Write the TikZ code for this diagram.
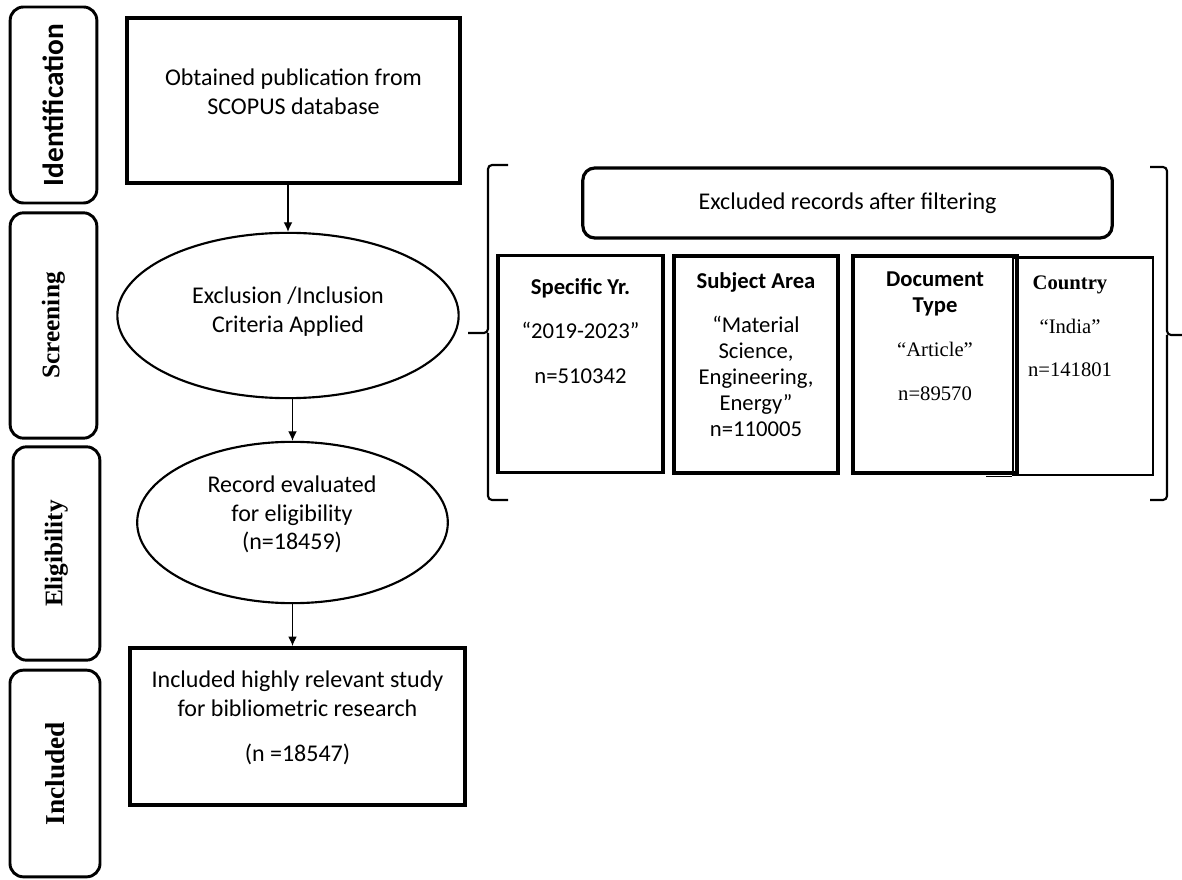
\documentclass[tikz,border=0pt]{standalone}
\usepackage{fontspec}
\setmainfont{Carlito}
\newfontfamily\tnr{Liberation Serif}
\usetikzlibrary{shapes.geometric, arrows.meta}

\tikzset{
  stage/.style={draw, line width=2.2pt, rounded corners=10pt, rotate=90,
    inner sep=0pt, font=\tnr\bfseries\fontsize{19}{22}\selectfont},
  box/.style={draw, line width=2.8pt, inner sep=0pt},
  oval/.style={draw, ellipse, line width=1.6pt, inner sep=0pt},
  filt/.style={draw, line width=2.6pt, inner sep=0pt, minimum height=163pt},
  txt/.style={align=center, inner sep=0pt, font=\fontsize{18}{21.6}\selectfont},
  small/.style={align=center, inner sep=0pt, anchor=north,
    font=\fontsize{17}{19.5}\selectfont},
  flow/.style={-{Latex[length=7pt,width=6.5pt]}, line width=0.8pt},
  brack/.style={line width=1.6pt, rounded corners=3pt}
}

\begin{document}
\begin{tikzpicture}[x=0.75pt, y=-0.75pt]
  \useasboundingbox (0,0) rectangle (1182,880);

  % stages on the left
  \node[stage, minimum width=147pt, minimum height=65pt,
    font=\bfseries\fontsize{22}{26}\selectfont] (ident) at (53.5,105) {Identification};
  \node[stage, minimum width=169pt, minimum height=65pt] (screen) at (53.5,325.5) {Screening};
  \node[stage, minimum width=160pt, minimum height=65pt] (elig) at (56.5,553.5) {Eligibility};
  \node[stage, minimum width=155pt, minimum height=67.5pt,
    font=\tnr\bfseries\fontsize{20.5}{24}\selectfont] (incl) at (55,773.5) {Included};

  % main flow
  \node[box, minimum width=250pt, minimum height=124pt] (src) at (293.5,100.5) {};
  \node[txt] (src-t) at (293.5,92) {Obtained publication from\\SCOPUS database};

  \node[oval, minimum width=256pt, minimum height=124pt] (crit) at (288,315.5) {};
  \node[txt] (crit-t) at (288,311.5) {Exclusion /Inclusion\\Criteria Applied};

  \node[oval, minimum width=233pt, minimum height=121pt] (eli) at (292.5,522.5) {};
  \node[txt] (eli-t) at (292,514.5) {Record evaluated\\for eligibility\\(n=18459)};

  \node[box, minimum width=251pt, minimum height=118pt] (res) at (297.5,726.5) {};
  \node[txt] (res-t) at (297.5,718) {Included highly relevant study\\for bibliometric research\\[12pt](n =18547)};

  \draw[flow] (src.south -| crit.north) -- (crit.north);
  \draw[flow] (crit.south -| eli.north) -- (eli.north);
  \draw[flow] (eli.south) -- (eli.south |- res.north);

  % excluded records
  \node[draw, line width=2.4pt, rounded corners=9pt, minimum width=397pt,
    minimum height=52.5pt, font=\fontsize{18}{21.6}\selectfont] (excl) at (847.5,203)
    {Excluded records after filtering};

  \node[filt, minimum width=123.75pt] (yr) at (580.5,364) {};
  \node[filt, minimum width=123pt] (subj) at (756,364.5) {};
  \node[filt, minimum width=105pt, line width=2pt] (ctry) at (1083,366.5) {};
  \node[filt, minimum width=123pt] (doc) at (935,364.5) {};
  \draw[line width=1.4pt] (ctry.south west) -- ++(-26,0);

  \node[small] (yr-t) at (580.5,278) {\textbf{Specific Yr.}\\[14pt]“2019-2023”\\[14pt]n=510342};
  \node[small] (subj-t) at (756,272) {\textbf{Subject Area}\\[14pt]“Material\\Science,\\Engineering,\\Energy”\\n=110005};
  \node[small] (doc-t) at (935,272) {\textbf{Document}\\\textbf{Type}\\[13pt]{\tnr\fontsize{15.5}{18.6}\selectfont “Article”}\\[14pt]{\tnr\fontsize{15.5}{18.6}\selectfont n=89570}};
  \node[small, font=\tnr\fontsize{15.5}{18.6}\selectfont] (ctry-t) at (1070,276) {\textbf{Country}\\[14pt]“India”\\[14pt]n=141801};

  % brackets round the filters
  \draw[brack] (508,165) -- (488,165) -- (488,333) -- (468,333);
  \draw[brack] (488,333) -- (488,500) -- (508,500);
  \draw[brack] (1150,167) -- (1167,167) -- (1167,335) -- (1182,335);
  \draw[brack] (1167,335) -- (1167,500) -- (1150,500);
\end{tikzpicture}
\end{document}
